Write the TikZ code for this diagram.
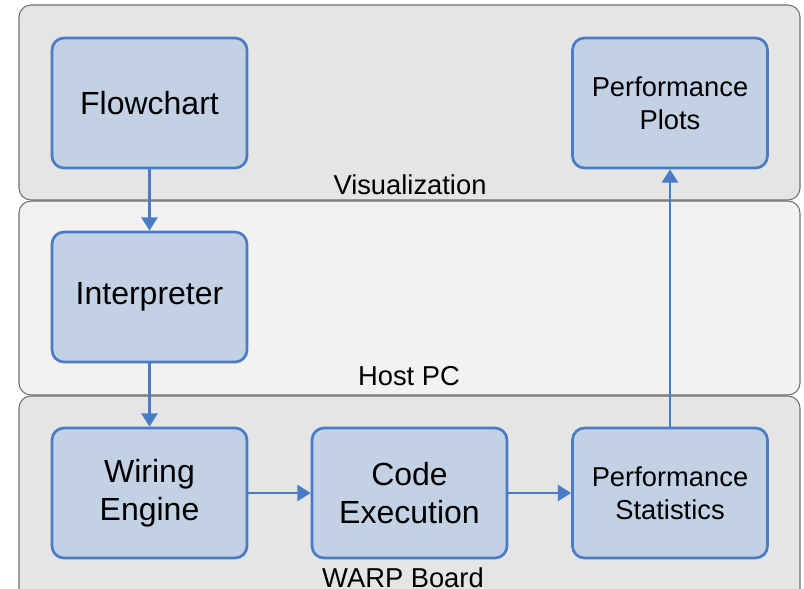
\documentclass[tikz,border=0pt]{standalone}
\usepackage{fontspec}
\setmainfont{Liberation Sans}
\usepackage{xcolor}
\usetikzlibrary{arrows.meta}
\definecolor{PanelDark}{HTML}{E5E5E5}
\definecolor{PanelLight}{HTML}{F2F2F2}
\definecolor{PanelLine}{HTML}{6F6F6F}
\definecolor{BoxFill}{HTML}{C3D1E5}
\definecolor{BoxLine}{HTML}{4A7CC6}

\begin{document}
\begin{tikzpicture}[
	x=0.75pt, y=-0.75pt, % one unit per pixel, y running down
	% Style for the large background bands
	panel/.style={
		rectangle,
		rounded corners=9pt,
		draw=PanelLine,
		line width=0.8pt,
		minimum width=585.75pt,
		inner sep=0pt
	},
	% Style for the band titles
	panel label/.style={
		font=\fontsize{20.5}{24}\selectfont,
		anchor=base,
		inner sep=0pt
	},
	% Style for the blue process boxes
	block/.style={
		rectangle,
		rounded corners=9pt,
		draw=BoxLine,
		fill=BoxFill,
		line width=2pt,
		minimum width=146.25pt,
		minimum height=97.5pt,
		align=center,
		font=\fontsize{24}{28.5}\selectfont
	},
	small/.style={
		font=\fontsize{20.5}{24.75}\selectfont
	},
	% Style for the connecting arrows
	flow/.style={
		draw=BoxLine,
		line width=2pt,
		-{Triangle[length=10pt,width=12pt]}
	}
	]
	
	\clip (0,0) rectangle (804,589);
	
	% 1. Background bands
	\node[panel, fill=PanelDark, minimum height=146.25pt] (vis) at (409.5,102.5) {};
	\node[panel, fill=PanelLight, minimum height=145.5pt] (host) at (409.5,298) {};
	\node[panel, fill=PanelDark, minimum height=160.5pt] (warp) at (409.5,503) {};
	
	\node[panel label] (vislabel) at (410,194) {Visualization};
	\node[panel label] (hostlabel) at (409,385) {Host PC};
	\node[panel label] (warplabel) at (403,587) {WARP Board};
	
	% 2. Process boxes
	\node[block] (flow) at (149.5,103) {Flowchart};
	\node[block, small] (plots) at (670,103) {Performance\\Plots};
	
	\node[block] (interp) at (149.5,297) {Interpreter};
	
	\node[block] (wiring) at (149.5,493) {Wiring\\Engine};
	\node[block] (exec) at (409.5,493) {Code\\Execution};
	\node[block, small] (stats) at (670,493) {Performance\\Statistics};
	
	% 3. Arrows between the boxes
	\draw[flow] (flow) -- (interp);
	\draw[flow] (interp) -- (wiring);
	\draw[flow] (wiring) -- (exec);
	\draw[flow] (exec) -- (stats);
	\draw[flow] (stats) -- (plots);
	
\end{tikzpicture}
\end{document}
